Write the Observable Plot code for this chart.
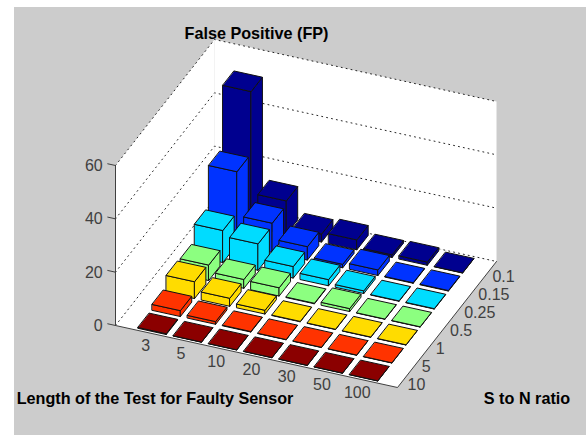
<!DOCTYPE html>
<html>
<head>
<meta charset="utf-8">
<script src="https://cdn.jsdelivr.net/npm/d3@7"></script>
<script src="https://cdn.jsdelivr.net/npm/@observablehq/plot@0.6"></script>
<style>html,body{margin:0;padding:0;background:#fff;overflow:hidden}</style>
</head>
<body>
<div id="chart"></div>
<script>
const lengths = ["3", "5", "10", "20", "30", "50", "100"];
const ratios = ["0.1", "0.15", "0.25", "0.5", "1", "5", "10"];
const zTicks = [0, 20, 40, 60];
const fpRatio01 = [50.6, 12.5, 3, 3.7, 1, 1.2, 0.1];
const fpRatio015 = [27.3, 10.9, 5, 1.3, 2.1, 0.2, 0.2];
const fpRatio025 = [12, 9.9, 4.3, 2.3, 1, 0.15, 0.15];
const fpRatio05 = [5.8, 3.3, 3.1, 0.2, 1.1, 0.1, 0.1];
const fpRatio1 = [6.3, 3, 1.4, 0.15, 0.1, 0.1, 0.1];
const fpRatio5 = [2.2, 1, 0.2, 0.1, 0.1, 0.1, 0.1];
const fpRatio10 = [0.3, 0.1, 0.1, 0.1, 0.1, 0.1, 0.1];
const fpByRatio = [fpRatio01, fpRatio015, fpRatio025, fpRatio05, fpRatio1, fpRatio5, fpRatio10];
const rowColors = ["#00008f", "#0033ff", "#00dcff", "#8cff80", "#ffdc00", "#ff3300", "#8b0000"];

const view = {
  origin: [115, 325],
  xStep: [282 / 8, 62 / 8],
  yStep: [99 / 7, -126 / 7],
  zStep: 160 / 60,
  xMax: 8, yMin: 0.5, yMax: 7.5, zMax: 60
};
function project(x, y, z) {
  const d = view.yMax - y;
  return {
    px: view.origin[0] + x * view.xStep[0] + d * view.yStep[0],
    py: view.origin[1] + x * view.xStep[1] + d * view.yStep[1] - z * view.zStep
  };
}
function polygon(id, color, corners) {
  return corners.map(([x, y, z]) => ({id, color, ...project(x, y, z)}));
}

const half = 0.4;
const bars = [];
fpByRatio.forEach((row, r) => {
  row.forEach((v, c) => {
    const x = c + 1, y = r + 1, k = `${r}-${c}`, col = rowColors[r];
    const x0 = x - half, x1 = x + half, y0 = y - half, y1 = y + half;
    bars.push(...polygon(k + "f", col, [[x0, y1, 0], [x1, y1, 0], [x1, y1, v], [x0, y1, v]]));
    bars.push(...polygon(k + "r", col, [[x1, y1, 0], [x1, y0, 0], [x1, y0, v], [x1, y1, v]]));
    bars.push(...polygon(k + "t", col, [[x0, y0, v], [x1, y0, v], [x1, y1, v], [x0, y1, v]]));
  });
});

const {xMax: X, yMin: Y0, yMax: Y1, zMax: Z} = view;
const walls = [
  ...polygon("floor", "white", [[0, Y1, 0], [X, Y1, 0], [X, Y0, 0], [0, Y0, 0]]),
  ...polygon("left", "white", [[0, Y1, 0], [0, Y0, 0], [0, Y0, Z], [0, Y1, Z]]),
  ...polygon("back", "white", [[0, Y0, 0], [X, Y0, 0], [X, Y0, Z], [0, Y0, Z]])
];
const grid = zTicks.flatMap(z => [[0, Y1, z], [0, Y0, z], [X, Y0, z]].map(([x, y, zz]) => ({id: z, ...project(x, y, zz)})));
const axisEdges = [[0, Y1, Z], [0, Y1, 0], [X, Y1, 0], [X, Y0, 0]].map(([x, y, z]) => ({...project(x, y, z)}));
const zTickLines = zTicks.flatMap(z => [[0, z], [-0.22, z]].map(([x, zz]) => ({id: z, ...project(x, Y1, zz)})));
const zLabels = zTicks.map(z => ({label: String(z), ...project(-0.22, Y1, z)}));
const xLabels = lengths.map((label, i) => ({label, ...project(i + 1, Y1, 0)}));
const yLabels = ratios.map((label, i) => ({label, ...project(X, i + 1, 0)}));

const tickStyle = {text: "label", fill: "#404040", fontSize: 16, x: "px", y: "py"};
const titleStyle = {fill: "#000", fontSize: 16.2, fontWeight: "bold"};

const plot = Plot.plot({
  width: 586,
  height: 435,
  margin: 0,
  x: {type: "identity", axis: null},
  y: {type: "identity", axis: null},
  color: {type: "identity"},
  style: {
    background: "linear-gradient(#ccc,#ccc) 14px 7px no-repeat",
    fontFamily: "'Liberation Sans', Arial, sans-serif"
  },
  marks: [
    Plot.line(walls, {x: "px", y: "py", z: "id", fill: "color", stroke: "none", curve: "linear-closed"}),
    Plot.line(grid, {x: "px", y: "py", z: "id", stroke: "#000", strokeWidth: 1, strokeOpacity: 0.85, strokeDasharray: "1,4"}),
    Plot.line(axisEdges, {x: "px", y: "py", stroke: "#404040", strokeWidth: 1}),
    Plot.line(zTickLines, {x: "px", y: "py", z: "id", stroke: "#404040", strokeWidth: 1}),
    Plot.line(bars, {x: "px", y: "py", z: "id", fill: "color", stroke: "#111", strokeWidth: 1, curve: "linear-closed"}),
    Plot.text(zLabels, {...tickStyle, textAnchor: "end", dx: -5, dy: 2}),
    Plot.text(xLabels, {...tickStyle, textAnchor: "middle", dx: -5, dy: 13}),
    Plot.text(yLabels, {...tickStyle, textAnchor: "start", dx: 3, dy: 6}),
    Plot.text(["False Positive (FP)"], {...titleStyle, x: () => 256, y: () => 33, text: d => d}),
    Plot.text(["Length of the Test for Faulty Sensor"], {...titleStyle, x: () => 154.5, y: () => 398, text: d => d}),
    Plot.text(["S to N ratio"], {...titleStyle, x: () => 526.5, y: () => 398, text: d => d})
  ]
});
document.getElementById("chart").append(plot);
</script>
</body>
</html>
